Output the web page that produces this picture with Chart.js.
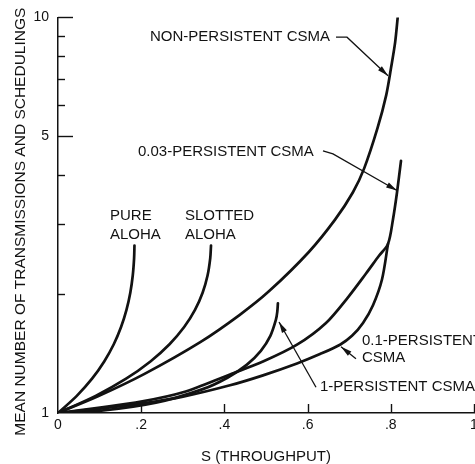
<!DOCTYPE html>
<html><head><meta charset="utf-8">
<script src="https://cdn.jsdelivr.net/npm/chart.js@4.4.1/dist/chart.umd.min.js"></script>
<style>html,body{margin:0;padding:0;background:#fff;overflow:hidden;width:475px;height:464px}canvas{display:block}</style>
</head><body>
<canvas id="c" width="490" height="464" style="width:490px;height:464px"></canvas>
<script>
// ---- tick values / labels ----
const xTickValues = [0, 0.2, 0.4, 0.6, 0.8, 1];
const xTickLabels = ['0', '.2', '.4', '.6', '.8', '1'];
const yTickValues = [1, 2, 3, 4, 5, 6, 7, 8, 9, 10];
const yTickLabels = ['1', '', '', '', '5', '', '', '', '', '10'];

// ---- series (S = throughput, T = mean number of transmissions and schedulings) ----
const sPureAloha = [0, 0.0452, 0.0819, 0.1111, 0.1341, 0.1516, 0.1646, 0.1738, 0.1797, 0.1829, 0.1838];
const tPureAloha = [1, 1.105, 1.221, 1.350, 1.492, 1.649, 1.822, 2.014, 2.226, 2.460, 2.65];

const sSlottedAloha = [0, 0.0905, 0.1637, 0.2222, 0.2681, 0.3033, 0.3293, 0.3476, 0.3595, 0.3659, 0.3678];
const tSlottedAloha = [1, 1.105, 1.221, 1.350, 1.492, 1.649, 1.822, 2.014, 2.226, 2.460, 2.65];

const sNonPersistent = [0, 0.096, 0.208, 0.343, 0.437, 0.507, 0.603, 0.666, 0.709, 0.736, 0.768, 0.789, 0.801, 0.8105, 0.8166];
const tNonPersistent = [1, 1.102, 1.256, 1.513, 1.771, 2.030, 2.553, 3.081, 3.615, 4.153, 5.247, 6.362, 7.50, 8.66, 10];

const sP003 = [0, 0.101, 0.1995, 0.3005, 0.4135, 0.4928, 0.5745, 0.6442, 0.6971, 0.7404, 0.7716, 0.7933, 0.8053, 0.8149, 0.8245];
const tP003 = [1, 1.032, 1.068, 1.128, 1.252, 1.349, 1.488, 1.689, 1.961, 2.252, 2.497, 2.676, 3.090, 3.610, 4.340];

const sP01 = [0, 0.101, 0.1995, 0.3005, 0.4135, 0.4928, 0.5745, 0.6298, 0.6779, 0.7067, 0.7332, 0.7572, 0.7788, 0.7933];
const tP01 = [1, 1.026, 1.056, 1.100, 1.175, 1.245, 1.334, 1.409, 1.488, 1.567, 1.689, 1.873, 2.175, 2.676];

const sP1 = [0, 0.0989, 0.2354, 0.3481, 0.4072, 0.4535, 0.4876, 0.5105, 0.5237, 0.5271, 0.5286];
const tP1 = [1, 1.012, 1.062, 1.149, 1.228, 1.323, 1.436, 1.567, 1.719, 1.802, 1.892];

// ---- annotation texts (anchored in data coordinates) ----
const annoTexts = [
  {text: 'NON-PERSISTENT CSMA', s: 0.2212, t: 8.913},
  {text: '0.03-PERSISTENT CSMA', s: 0.1923, t: 4.571},
  {text: 'PURE', s: 0.125, t: 3.145},
  {text: 'ALOHA', s: 0.125, t: 2.818},
  {text: 'SLOTTED', s: 0.3053, t: 3.145},
  {text: 'ALOHA', s: 0.3053, t: 2.818},
  {text: '0.1-PERSISTENT', s: 0.7308, t: 1.522},
  {text: 'CSMA', s: 0.7308, t: 1.380},
  {text: '1-PERSISTENT CSMA', s: 0.6298, t: 1.1614}
];
const annoLeaders = [
  [[0.6683, 8.913], [0.6947, 8.913], [0.7933, 7.121]],
  [[0.637, 4.597], [0.661, 4.519], [0.8149, 3.652]],
  [[0.7163, 1.372], [0.6803, 1.470]],
  [[0.6202, 1.1614], [0.5313, 1.698]]
];

const INK = '#121212';
const FONT = '"Liberation Sans", Arial, Helvetica, sans-serif';
Chart.defaults.font.family = FONT;
Chart.defaults.color = INK;

function pts(s, t) { return s.map((v, i) => ({x: v, y: t[i]})); }
function ds(label, s, t) {
  return {label, data: pts(s, t), borderColor: INK, borderWidth: 2.7, pointRadius: 0,
    tension: 0.3, fill: false, borderCapStyle: 'round', borderJoinStyle: 'round'};
}

const overlay = {
  id: 'overlay',
  afterDraw(chart) {
    const {ctx, scales: {x, y}} = chart;
    ctx.save();
    ctx.strokeStyle = INK;
    ctx.lineWidth = 1.4;
    // inward y ticks
    yTickValues.forEach((v, i) => {
      if (i === 0) return;
      const py = Math.round(y.getPixelForValue(v)) + 0.5;
      const len = yTickLabels[i] ? 15 : 7;
      ctx.beginPath(); ctx.moveTo(x.left, py); ctx.lineTo(x.left + len, py); ctx.stroke();
    });
    // inward x ticks
    xTickValues.forEach((v, i) => {
      if (i === 0) return;
      const px = Math.round(x.getPixelForValue(v)) + 0.5;
      ctx.beginPath(); ctx.moveTo(px, y.bottom); ctx.lineTo(px, y.bottom - 9); ctx.stroke();
    });
    // annotation texts
    ctx.fillStyle = INK;
    ctx.font = '15px ' + FONT;
    ctx.textBaseline = 'middle';
    ctx.textAlign = 'left';
    annoTexts.forEach(a => ctx.fillText(a.text, x.getPixelForValue(a.s), y.getPixelForValue(a.t)));
    // leaders with arrowheads
    ctx.lineWidth = 1.3;
    annoLeaders.forEach(l => {
      const p = l.map(q => [x.getPixelForValue(q[0]), y.getPixelForValue(q[1])]);
      ctx.beginPath(); ctx.moveTo(p[0][0], p[0][1]);
      for (let i = 1; i < p.length; i++) ctx.lineTo(p[i][0], p[i][1]);
      ctx.stroke();
      const a = p[p.length - 2], b = p[p.length - 1];
      const ang = Math.atan2(b[1] - a[1], b[0] - a[0]);
      const L = 11, W = 2.8;
      ctx.beginPath();
      ctx.moveTo(b[0], b[1]);
      ctx.lineTo(b[0] - L * Math.cos(ang) + W * Math.sin(ang), b[1] - L * Math.sin(ang) - W * Math.cos(ang));
      ctx.lineTo(b[0] - L * Math.cos(ang) - W * Math.sin(ang), b[1] - L * Math.sin(ang) + W * Math.cos(ang));
      ctx.closePath(); ctx.fill();
    });
    ctx.restore();
  }
};

new Chart(document.getElementById('c'), {
  type: 'line',
  data: {datasets: [
    ds('PURE ALOHA', sPureAloha, tPureAloha),
    ds('SLOTTED ALOHA', sSlottedAloha, tSlottedAloha),
    ds('NON-PERSISTENT CSMA', sNonPersistent, tNonPersistent),
    ds('0.03-PERSISTENT CSMA', sP003, tP003),
    ds('0.1-PERSISTENT CSMA', sP01, tP01),
    ds('1-PERSISTENT CSMA', sP1, tP1)
  ]},
  options: {
    responsive: false, animation: false, devicePixelRatio: 1,
    layout: {padding: {top: 13, right: 16, bottom: 0, left: 0}},
    plugins: {legend: {display: false}, tooltip: {enabled: false}},
    scales: {
      x: {
        type: 'linear', min: 0, max: 1,
        afterBuildTicks: s => { s.ticks = xTickValues.map(v => ({value: v})); },
        afterFit: s => { s.height = 51; },
        ticks: {padding: 4, maxRotation: 0, autoSkip: false, font: {size: 14}, color: INK,
          callback: (v, i) => xTickLabels[i]},
        grid: {drawOnChartArea: false, drawTicks: false},
        border: {display: true, color: INK, width: 1.5},
        title: {display: true, text: 'S (THROUGHPUT)', color: INK, font: {size: 15, lineHeight: 1}, padding: {top: 0, bottom: 0}}
      },
      y: {
        type: 'logarithmic', min: 1, max: 10,
        afterBuildTicks: s => { s.ticks = yTickValues.map(v => ({value: v})); },
        afterFit: s => { s.width = 58; },
        ticks: {padding: 9, autoSkip: false, font: {size: 14}, color: INK,
          callback: (v, i) => yTickLabels[i]},
        grid: {drawOnChartArea: false, drawTicks: false},
        border: {display: true, color: INK, width: 1.5},
        title: {display: true, text: 'MEAN NUMBER OF TRANSMISSIONS AND SCHEDULINGS   ', color: INK,
          font: {size: 15.5, lineHeight: 1.2}, padding: {top: 11.7, bottom: 0}}
      }
    }
  },
  plugins: [overlay]
});
</script>
</body></html>
